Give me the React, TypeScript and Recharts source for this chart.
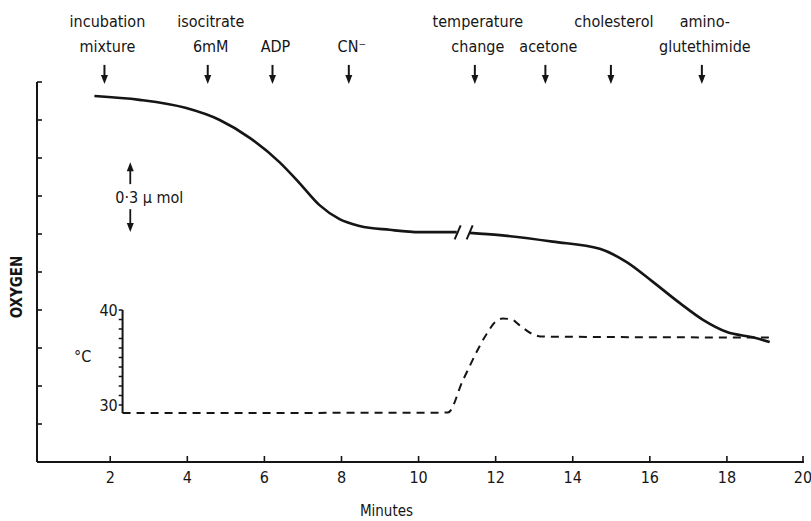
import React from "react";
import { LineChart, Line, XAxis, YAxis, ReferenceLine, ReferenceDot } from "recharts";

const ink = "#151515";
const font = "'DejaVu Sans Condensed', 'DejaVu Sans', sans-serif";

const minuteTicks = [2, 4, 6, 8, 10, 12, 14, 16, 18, 20];
const oxygenTicks = [1, 2, 3, 4, 5, 6, 7, 8, 9, 10];

// oxygen trace, before and after the break in the time axis
const oxygenBefore = [
  { m: 1.59, o: 9.63 },
  { m: 2.76, o: 9.53 },
  { m: 3.95, o: 9.32 },
  { m: 4.84, o: 9.0 },
  { m: 5.62, o: 8.53 },
  { m: 6.39, o: 7.89 },
  { m: 6.91, o: 7.34 },
  { m: 7.43, o: 6.76 },
  { m: 7.95, o: 6.39 },
  { m: 8.47, o: 6.21 },
  { m: 9.25, o: 6.11 },
  { m: 10.03, o: 6.05 },
  { m: 10.99, o: 6.05 },
];
const oxygenAfter = [
  { m: 11.33, o: 6.03 },
  { m: 12.11, o: 5.97 },
  { m: 13.48, o: 5.8 },
  { m: 14.7, o: 5.61 },
  { m: 15.4, o: 5.26 },
  { m: 16.08, o: 4.74 },
  { m: 16.78, o: 4.18 },
  { m: 17.38, o: 3.74 },
  { m: 18.0, o: 3.42 },
  { m: 18.67, o: 3.28 },
  { m: 19.11, o: 3.16 },
];

// temperature trace (°C)
const temperature = [
  { m: 2.32, t: 29.15 },
  { m: 10.76, t: 29.2 },
  { m: 11.15, t: 32.6 },
  { m: 11.77, t: 37.5 },
  { m: 11.98, t: 38.7 },
  { m: 12.18, t: 39.1 },
  { m: 12.42, t: 39.0 },
  { m: 12.62, t: 38.4 },
  { m: 12.94, t: 37.5 },
  { m: 13.22, t: 37.2 },
  { m: 19.11, t: 37.1 },
];

const additions = [
  { m: 1.85, lines: ["incubation", "mixture"] },
  { m: 4.53, lines: ["isocitrate", "6mM"] },
  { m: 6.21, lines: ["", "ADP"] },
  { m: 8.19, lines: ["", "CN\u207B"] },
  { m: 11.46, lines: ["temperature", "change"] },
  { m: 13.29, lines: ["", "acetone"] },
  { m: 14.99, lines: ["cholesterol", ""] },
  { m: 17.35, lines: ["amino-", "glutethimide"] },
];

const tempScaleTicks = [30, 31, 32, 33, 34, 35, 36, 37, 38, 39, 40];
const tempScaleLabels = [30, 40];
const tempScaleAt = 2.32;
const tempScaleBottom = 29.15;

const breakAt = { m: 11.17, o: 6.04 };
const scaleBar = { m: 2.52, from: 6.05, to: 7.89, label: "0\u00B73 \u03BC mol" };

const AdditionArrow = (p: any, lines: string[]) => {
  const { x1, y1, y2 } = p;
  return (
    <g>
      <line x1={x1} y1={y1} x2={x1} y2={y2 - 7} stroke={ink} strokeWidth={2} />
      <path d={`M${x1 - 3.5},${y2 - 9} L${x1 + 3.5},${y2 - 9} L${x1},${y2} Z`} fill={ink} />
      {lines.map((s, i) =>
        s ? (
          <text key={i} x={x1 + 3} y={y1 - 38 + i * 25} textAnchor="middle" fontFamily={font} fontSize={16} fill={ink}>
            {s}
          </text>
        ) : null
      )}
    </g>
  );
};

const ScaleBar = (p: any) => {
  const { x1, y1, y2 } = p; // y1 bottom tip, y2 top tip
  const mid = (y1 + y2) / 2;
  return (
    <g>
      <line x1={x1} y1={y2 + 6} x2={x1} y2={mid - 13} stroke={ink} strokeWidth={1.8} />
      <path d={`M${x1 - 3.5},${y2 + 9} L${x1 + 3.5},${y2 + 9} L${x1},${y2} Z`} fill={ink} />
      <line x1={x1} y1={y1 - 6} x2={x1} y2={mid + 12} stroke={ink} strokeWidth={1.8} />
      <path d={`M${x1 - 3.5},${y1 - 9} L${x1 + 3.5},${y1 - 9} L${x1},${y1} Z`} fill={ink} />
      <text x={x1 - 15} y={mid + 6} fontFamily={font} fontSize={16} fill={ink}>
        {scaleBar.label}
      </text>
    </g>
  );
};

const TempRuler = (p: any) => {
  const { x1, y1, y2 } = p;
  return (
    <g>
      <line x1={x1} y1={y1} x2={x1} y2={y2} stroke={ink} strokeWidth={2} />
      <text x={x1 - 40} y={(y1 + y2) / 2} fontFamily={font} fontSize={16} fill={ink} textAnchor="middle">
        °C
      </text>
    </g>
  );
};

const TempTick = (p: any, label?: string) => {
  const { x1, y1, x2 } = p;
  return (
    <g>
      <line x1={x1} y1={y1} x2={x2} y2={y1} stroke={ink} strokeWidth={1.5} />
      {label ? (
        <text x={x1 - 1} y={y1 + 6} textAnchor="end" fontFamily={font} fontSize={16} fill={ink}>
          {label}
        </text>
      ) : null}
    </g>
  );
};

const TimeBreak = (p: any) => {
  const { cx, cy } = p;
  return (
    <g stroke={ink} strokeWidth={2}>
      <line x1={cx - 9} y1={cy + 7} x2={cx - 3} y2={cy - 7} />
      <line x1={cx + 3} y1={cy + 7} x2={cx + 9} y2={cy - 7} />
    </g>
  );
};

const XTick = (p: any) => (
  <g>
    <line x1={p.x} y1={p.y} x2={p.x} y2={p.y - 6} stroke={ink} strokeWidth={1.6} />
    <text x={p.x} y={p.y + 21} textAnchor="middle" fontFamily={font} fontSize={16} fill={ink}>
      {p.payload.value}
    </text>
  </g>
);

const YTick = (p: any) => <line x1={p.x} y1={p.y} x2={p.x + 5} y2={p.y} stroke={ink} strokeWidth={1.6} />;

const OxygenLabel = (p: any) => {
  const { viewBox } = p;
  const x = viewBox.x + 17;
  const y = viewBox.y + viewBox.height / 2 + 15;
  return (
    <text x={x} y={y} transform={`rotate(-90 ${x} ${y})`} textAnchor="middle" dominantBaseline="central" fontFamily={font} fontWeight="bold" fontSize={15} fill={ink}>
      OXYGEN
    </text>
  );
};

const MinutesLabel = (p: any) => {
  const { viewBox } = p;
  return (
    <text x={viewBox.x + viewBox.width / 2 - 34} y={516} textAnchor="middle" fontFamily={font} fontSize={15} fill={ink}>
      Minutes
    </text>
  );
};

export default function App() {
  return (
    <div style={{ position: "absolute", left: 0, top: 0, width: 811, height: 521, background: "#fff" }}>
      <LineChart width={811} height={521} margin={{ top: 82, right: 7, bottom: 29, left: 0 }}>
        <XAxis
          dataKey="m"
          type="number"
          domain={[0.1, 20]}
          ticks={minuteTicks}
          allowDataOverflow
          height={30}
          stroke={ink}
          strokeWidth={2}
          tickLine={false}
          tickSize={0}
          tickMargin={0}
          tick={<XTick />}
          label={<MinutesLabel />}
        />
        <YAxis
          yAxisId="ox"
          type="number"
          domain={[0, 10]}
          ticks={oxygenTicks}
          allowDataOverflow
          width={37}
          stroke={ink}
          strokeWidth={2}
          tickLine={false}
          tickSize={0}
          tickMargin={0}
          tick={<YTick />}
          label={<OxygenLabel />}
        />
        <YAxis yAxisId="temp" type="number" domain={[24, 64]} allowDataOverflow hide />

        <ReferenceLine
          yAxisId="temp"
          segment={[{ x: tempScaleAt, y: tempScaleBottom }, { x: tempScaleAt, y: 40 }]}
          shape={(p: any) => TempRuler(p)}
        />
        {tempScaleTicks.map((t) => (
          <ReferenceLine
            key={`tt${t}`}
            yAxisId="temp"
            segment={[{ x: tempScaleAt - 0.1, y: t }, { x: tempScaleAt, y: t }]}
            shape={(p: any) => TempTick(p, tempScaleLabels.includes(t) ? String(t) : undefined)}
          />
        ))}

        <Line
          yAxisId="temp"
          data={temperature}
          dataKey="t"
          type="monotone"
          stroke={ink}
          strokeWidth={2}
          strokeDasharray="8 6"
          dot={false}
          activeDot={false}
          isAnimationActive={false}
        />
        <Line
          yAxisId="ox"
          data={oxygenBefore}
          dataKey="o"
          type="monotone"
          stroke={ink}
          strokeWidth={2.6}
          dot={false}
          activeDot={false}
          isAnimationActive={false}
        />
        <Line
          yAxisId="ox"
          data={oxygenAfter}
          dataKey="o"
          type="monotone"
          stroke={ink}
          strokeWidth={2.6}
          dot={false}
          activeDot={false}
          isAnimationActive={false}
        />

        <ReferenceDot yAxisId="ox" x={breakAt.m} y={breakAt.o} r={1} shape={(p: any) => TimeBreak(p)} />

        <ReferenceLine
          yAxisId="ox"
          segment={[{ x: scaleBar.m, y: scaleBar.from }, { x: scaleBar.m, y: scaleBar.to }]}
          shape={(p: any) => ScaleBar(p)}
        />

        {additions.map((a) => (
          <ReferenceLine
            key={a.m}
            yAxisId="ox"
            ifOverflow="visible"
            segment={[{ x: a.m, y: 10.45 }, { x: a.m, y: 9.95 }]}
            shape={(p: any) => AdditionArrow(p, a.lines)}
          />
        ))}
      </LineChart>
    </div>
  );
}
